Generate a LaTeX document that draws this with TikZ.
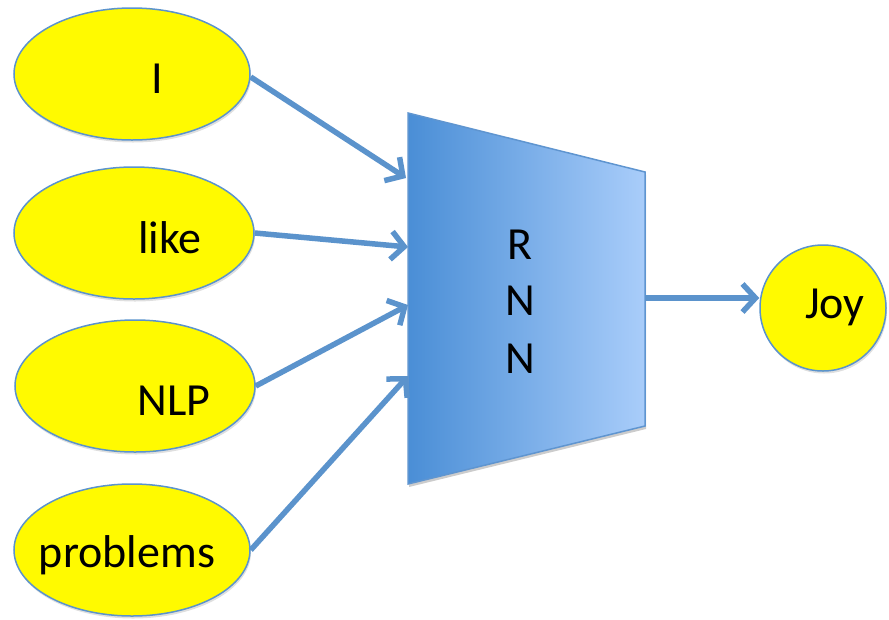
\documentclass[tikz,border=0pt]{standalone}
\usepackage{fontspec}
\setmainfont{Carlito}
\usetikzlibrary{arrows.meta,shapes.geometric,shadows}
\definecolor{edgeblue}{HTML}{5B93CC}
\definecolor{boxleft}{HTML}{4A8ED6}
\definecolor{boxright}{HTML}{A9CDFA}
\definecolor{boxline}{HTML}{5F95D0}
\definecolor{wordfill}{HTML}{FFFA00}
\tikzset{
  word/.style={ellipse, draw=edgeblue, line width=1.5pt, fill=wordfill,
    minimum width=236pt, minimum height=132pt, inner sep=0pt,
    drop shadow={opacity=0.25, shadow xshift=1pt, shadow yshift=-2.5pt}},
  joynode/.style={circle, draw=edgeblue, line width=1.5pt, fill=wordfill,
    minimum size=126pt, inner sep=0pt,
    drop shadow={opacity=0.25, shadow xshift=1pt, shadow yshift=-2.5pt}},
  txt/.style={anchor=base, inner sep=0pt, font=\fontsize{46}{50}\selectfont},
  flow/.style={draw=edgeblue, line width=5.5pt,
    -{Straight Barb[length=13pt,width=28pt]}}
}
\begin{document}
\begin{tikzpicture}[x=1pt,y=-1pt]
\useasboundingbox (0,0) rectangle (889,619);
% input ellipses
\node[word] (eI) at (132,74) {};
\node[word, minimum width=240pt] (eLike) at (134,233) {};
\node[word, minimum width=240pt] (eNLP) at (135,386) {};
\node[word] (eProb) at (132,550) {};
% output circle
\node[joynode] (eJoy) at (823,308) {};
% RNN trapezoid
\coordinate (tl) at (408,113);
\coordinate (tr) at (645,172);
\coordinate (br) at (645,426);
\coordinate (bl) at (408,484);
\fill[black, opacity=0.2] ([xshift=1pt,yshift=-3pt]tl) -- ([xshift=1pt,yshift=-3pt]tr) -- ([xshift=1pt,yshift=-3pt]br) -- ([xshift=1pt,yshift=-3pt]bl) -- cycle;
\shade[left color=boxleft, right color=boxright] (tl) -- (tr) -- (br) -- (bl) -- cycle;
\draw[boxline, line width=1.5pt, line join=miter] (tl) -- (tr) -- (br) -- (bl) -- cycle;
% connector end points on the box
\coordinate (inI) at (406,178);
\coordinate (inLike) at (408,247);
\coordinate (inNLP) at (408,305);
\coordinate (inProb) at (408,376);
\coordinate (outR) at (645,298);
% texts
\node[txt] (tI) at (157,93) {I};
\node[txt] (tLike) at (170,253) {like};
\node[txt] (tNLP) at (174,415) {NLP};
\node[txt] (tProb) at (127,567) {problems};
\node[txt] (tJoy) at (835,318) {Joy};
\node[txt] (tR) at (520,259) {R};
\node[txt] (tN1) at (520,315) {N};
\node[txt] (tN2) at (520,373) {N};
% connectors
\draw[flow] ([yshift=-3pt]eI.east) -- (inI);
\draw[flow] (eLike.east) -- (inLike);
\draw[flow] (eNLP.east) -- (inNLP);
\draw[flow] (eProb.east) -- (inProb);
\draw[flow] (outR) -- (eJoy.west |- outR);
\end{tikzpicture}
\end{document}
